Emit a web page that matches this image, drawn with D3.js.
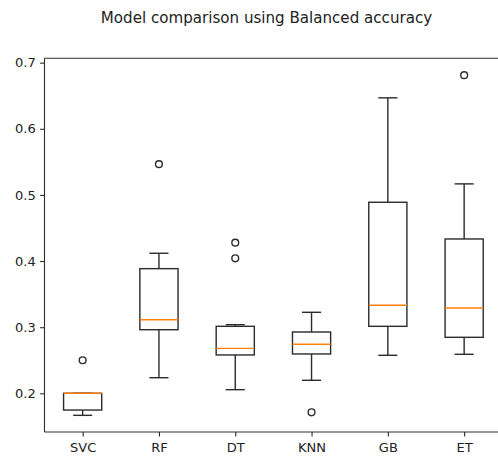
<!DOCTYPE html>
<html>
<head>
<meta charset="utf-8">
<script src="https://cdn.jsdelivr.net/npm/d3@7"></script>
<style>
  html, body { margin: 0; padding: 0; background: #fff; overflow: hidden; }
  svg { display: block; overflow: hidden; }
  text { font-family: "DejaVu Sans", sans-serif; fill: #222; }
</style>
</head>
<body>
<div></div>
<script>
// datos
var models = ['SVC', 'RF', 'DT', 'KNN', 'GB', 'ET']
var whiskerLow = [0.1667, 0.2236, 0.2055, 0.2197, 0.2575, 0.259]
var q1 = [0.1747, 0.2962, 0.258, 0.2595, 0.3013, 0.2847]
var medians = [0.2, 0.3113, 0.268, 0.2741, 0.3331, 0.329]
var q3 = [0.2, 0.3885, 0.3013, 0.2927, 0.4889, 0.4334]
var whiskerHigh = [0.2, 0.4118, 0.3038, 0.3225, 0.6468, 0.5167]
var fliers = [[0.25], [0.5465], [0.4278, 0.4042], [0.1713], [], [0.6811]]
var yTicks = [0.2, 0.3, 0.4, 0.5, 0.6, 0.7]
var title = 'Model comparison using Balanced accuracy'

var width = 498
var height = 459
// limites del area del grafico (el borde derecho queda fuera de la imagen)
var plotL = 44.5, plotR = 502.3, plotT = 58.3, plotB = 432
var ink = '#2b2b2b'

var svg = d3.select('div')
    .append('svg')
    .attr('width', width)
    .attr('height', height)

// escalas: posiciones 1..6 como en matplotlib
var scaleX = d3.scaleLinear()
    .domain([0.5, models.length + 0.5])
    .range([plotL, plotR])

var scaleY = d3.scaleLinear()
    .domain([0.1415, 0.7066])
    .range([plotB, plotT])

var boxW = scaleX(1.25) - scaleX(0.75)
var capW = boxW / 2

var data = models.map(function(m, i) {
    return {name: m, pos: i + 1, lo: whiskerLow[i], q1: q1[i], med: medians[i],
        q3: q3[i], hi: whiskerHigh[i], fliers: fliers[i]}
})

var g = svg.append('g').attr('fill', 'none').attr('stroke', ink).attr('stroke-width', 1.4)

var boxes = g.selectAll('g.box')
    .data(data)
    .enter()
    .append('g')
    .attr('class', 'box')

// bigotes
boxes.append('line')
    .attr('x1', (d) => scaleX(d.pos)).attr('x2', (d) => scaleX(d.pos))
    .attr('y1', (d) => scaleY(d.lo)).attr('y2', (d) => scaleY(d.q1))
boxes.append('line')
    .attr('x1', (d) => scaleX(d.pos)).attr('x2', (d) => scaleX(d.pos))
    .attr('y1', (d) => scaleY(d.q3)).attr('y2', (d) => scaleY(d.hi))
boxes.append('line')
    .attr('x1', (d) => scaleX(d.pos) - capW / 2).attr('x2', (d) => scaleX(d.pos) + capW / 2)
    .attr('y1', (d) => scaleY(d.lo)).attr('y2', (d) => scaleY(d.lo))
boxes.append('line')
    .attr('x1', (d) => scaleX(d.pos) - capW / 2).attr('x2', (d) => scaleX(d.pos) + capW / 2)
    .attr('y1', (d) => scaleY(d.hi)).attr('y2', (d) => scaleY(d.hi))

// cajas
boxes.append('rect')
    .attr('x', (d) => scaleX(d.pos) - boxW / 2)
    .attr('y', (d) => scaleY(d.q3))
    .attr('width', boxW)
    .attr('height', (d) => scaleY(d.q1) - scaleY(d.q3))

// medianas
boxes.append('line')
    .attr('x1', (d) => scaleX(d.pos) - boxW / 2).attr('x2', (d) => scaleX(d.pos) + boxW / 2)
    .attr('y1', (d) => scaleY(d.med)).attr('y2', (d) => scaleY(d.med))
    .attr('stroke', '#ff7f0e')

// valores atipicos
boxes.selectAll('circle')
    .data((d) => d.fliers.map((v) => ({pos: d.pos, v: v})))
    .enter()
    .append('circle')
    .attr('cx', (d) => scaleX(d.pos))
    .attr('cy', (d) => scaleY(d.v))
    .attr('r', 3.4)

// ejes
var xaxis = d3.axisBottom(scaleX)
    .tickValues(d3.range(1, models.length + 1))
    .tickFormat((d) => models[d - 1])
    .tickSize(4.4).tickPadding(6).tickSizeOuter(0)
var yaxis = d3.axisLeft(scaleY)
    .tickValues(yTicks)
    .tickFormat(d3.format('.1f'))
    .tickSize(4.4).tickPadding(4.4).tickSizeOuter(0)

var gx = svg.append('g').attr('transform', 'translate(0,' + plotB + ')').call(xaxis)
var gy = svg.append('g').attr('transform', 'translate(' + plotL + ',0)').call(yaxis)
gx.select('.domain').remove()
gy.select('.domain').remove()
svg.selectAll('.tick line').attr('stroke', ink).attr('stroke-width', 1.1)
svg.selectAll('.tick text').attr('font-size', 13).attr('font-family', 'DejaVu Sans').attr('fill', '#222')

// marco: izquierda, arriba y abajo (la derecha no entra en la imagen)
var spines = [[plotL, plotT, plotL, plotB], [plotL, plotT, plotR, plotT], [plotL, plotB, plotR, plotB]]
svg.append('g')
    .selectAll('line')
    .data(spines)
    .enter()
    .append('line')
    .attr('x1', (d) => d[0]).attr('y1', (d) => d[1])
    .attr('x2', (d) => d[2]).attr('y2', (d) => d[3])
    .attr('stroke', ink).attr('stroke-width', 1.1)

// titulo
svg.append('text')
    .attr('x', 266.5)
    .attr('y', 23.3)
    .attr('text-anchor', 'middle')
    .attr('font-size', 15.1)
    .text(title)
</script>
</body>
</html>
